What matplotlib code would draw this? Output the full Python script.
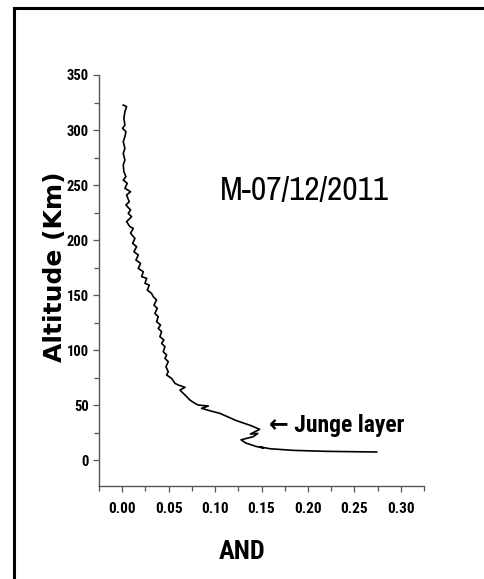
import matplotlib
matplotlib.use("Agg")
import matplotlib.pyplot as plt
from matplotlib import font_manager
from matplotlib.lines import Line2D
from matplotlib.ticker import MultipleLocator

# ---- data ----
altitude_km = [322.7, 321.2, 316.7, 310.6, 304.5, 301.5, 298.5, 293.9, 289.4, 283.3,
               278.8, 272.7, 268.2, 262.1, 257.6, 254.5, 251.5, 247.0, 243.9, 240.9,
               234.8, 231.8, 227.3, 224.2, 221.2, 216.7, 212.1, 210.6, 206.1, 201.5,
               197.0, 193.9, 189.4, 186.4, 181.8, 178.8, 174.2, 171.2, 166.7, 165.2,
               160.6, 159.1, 154.5, 151.5, 148.5, 145.5, 140.9, 137.9, 133.3, 130.3,
               125.8, 122.7, 119.7, 116.7, 112.1, 109.1, 106.1, 103.0, 98.5, 95.5,
               92.4, 89.4, 84.8, 80.3, 77.3, 74.2, 69.7, 68.2, 66.1, 63.6,
               60.6, 57.6, 54.5, 51.5, 50.0, 49.1, 47.0, 44.8, 42.4, 35.8,
               31.2, 27.9, 25.8, 23.6, 24.2, 21.2, 20.0, 18.4, 15.5, 12.4,
               11.0, 12.0, 10.3, 8.8, 7.9, 7.3]
and_values = [0.0011, 0.0047, 0.0029, 0.0018, 0.0029, 0.0004, 0.0040, 0.0029, 0.0011, 0.0029,
              0.0011, 0.0029, 0.0011, 0.0018, 0.0040, 0.0011, 0.0054, 0.0029, 0.0090, 0.0047,
              0.0076, 0.0040, 0.0090, 0.0065, 0.0101, 0.0047, 0.0083, 0.0119, 0.0090, 0.0137,
              0.0112, 0.0155, 0.0126, 0.0173, 0.0148, 0.0198, 0.0173, 0.0227, 0.0209, 0.0263,
              0.0245, 0.0291, 0.0270, 0.0316, 0.0334, 0.0370, 0.0342, 0.0377, 0.0352, 0.0388,
              0.0370, 0.0413, 0.0388, 0.0424, 0.0406, 0.0449, 0.0424, 0.0460, 0.0442, 0.0478,
              0.0460, 0.0496, 0.0471, 0.0496, 0.0478, 0.0532, 0.0568, 0.0604, 0.0676, 0.0622,
              0.0658, 0.0694, 0.0730, 0.0783, 0.0819, 0.0927, 0.0855, 0.0945, 0.1053, 0.1230,
              0.1390, 0.1480, 0.1430, 0.1380, 0.1460, 0.1410, 0.1355, 0.1280, 0.1330, 0.1440,
              0.1520, 0.1480, 0.1590, 0.1840, 0.2200, 0.2740]
x_ticks = [0.00, 0.05, 0.10, 0.15, 0.20, 0.25, 0.30]
y_ticks = [0, 50, 100, 150, 200, 250, 300, 350]
title_text = "M-07/12/2011"
annot_text = "\u2190 Junge layer"
xlabel_text = "AND"
ylabel_text = "Altitude (Km)"

fonts = font_manager.fontManager.ttflist
names = {f.name for f in fonts}
bold_names = {f.name for f in fonts if (isinstance(f.weight, int) and f.weight >= 600)
              or (isinstance(f.weight, str) and "bold" in f.weight.lower())}
cands = ["Arial Narrow", "Liberation Sans Narrow", "Archivo Narrow", "Roboto Condensed",
         "PT Sans Narrow", "Fira Sans Condensed", "IBM Plex Sans Condensed",
         "Barlow Condensed", "Encode Sans Condensed", "Asap Condensed", "Open Sans Condensed"]
narrow = next((c for c in cands if c in names), "Liberation Sans")
narrow_bold = next((c for c in cands if c in bold_names), "Liberation Sans")
fam = [narrow, "DejaVu Sans"]
famb = [narrow_bold, "DejaVu Sans"]

W, H = 484, 579
fig = plt.figure(figsize=(W / 100, H / 100), dpi=100)
ax = fig.add_axes([99 / W, 1 - 486 / H, (424 - 99) / W, (486 - 75) / H])

ax.plot(and_values, altitude_km, color="black", lw=1.2, solid_joinstyle="round")

ax.set_xlim(-0.025, 0.325)
ax.set_ylim(-23.6, 350)
ax.set_xticks(x_ticks)
ax.set_yticks(y_ticks)
ax.xaxis.set_minor_locator(MultipleLocator(0.025))
ax.yaxis.set_minor_locator(MultipleLocator(25))
ax.set_xticklabels([f"{v:.2f}" for v in x_ticks], fontfamily=famb, fontweight="bold", fontsize=11)
ax.set_yticklabels([str(v) for v in y_ticks], fontfamily=famb, fontweight="bold", fontsize=10.5)

spine_col = "#555555"
for s in ["top", "right"]:
    ax.spines[s].set_visible(False)
for s in ["left", "bottom"]:
    ax.spines[s].set_color(spine_col)
    ax.spines[s].set_linewidth(1.0)
ax.tick_params(which="both", direction="out", color=spine_col, width=0.9)
ax.tick_params(which="major", length=4.5, pad=3)
ax.tick_params(which="minor", length=3.5)
ax.tick_params(axis="x", which="major", pad=7)

ax.text(0.196, 245, title_text, fontfamily=fam, fontsize=24, ha="center", va="center")
ax.text(0.158, 31, annot_text, fontfamily=famb, fontweight="bold", fontsize=17,
        ha="left", va="center")

fig.text(242 / W, 1 - 552 / H, xlabel_text, fontfamily=famb, fontweight="bold",
         fontsize=19, ha="center", va="center")
fig.text(55 / W, 1 - 267 / H, ylabel_text, fontfamily=["DejaVu Sans"], fontweight="bold",
         fontsize=18, ha="center", va="center", rotation=90)

# outer frame (top and left borders)
fig.add_artist(Line2D([13.5 / W, 13.5 / W], [0, 1 - 8 / H], transform=fig.transFigure,
                      color="black", lw=2.2, solid_capstyle="projecting"))
fig.add_artist(Line2D([13.5 / W, 1], [1 - 8 / H, 1 - 8 / H], transform=fig.transFigure,
                      color="black", lw=2.2, solid_capstyle="projecting"))

fig.savefig("out.png", dpi=100)
